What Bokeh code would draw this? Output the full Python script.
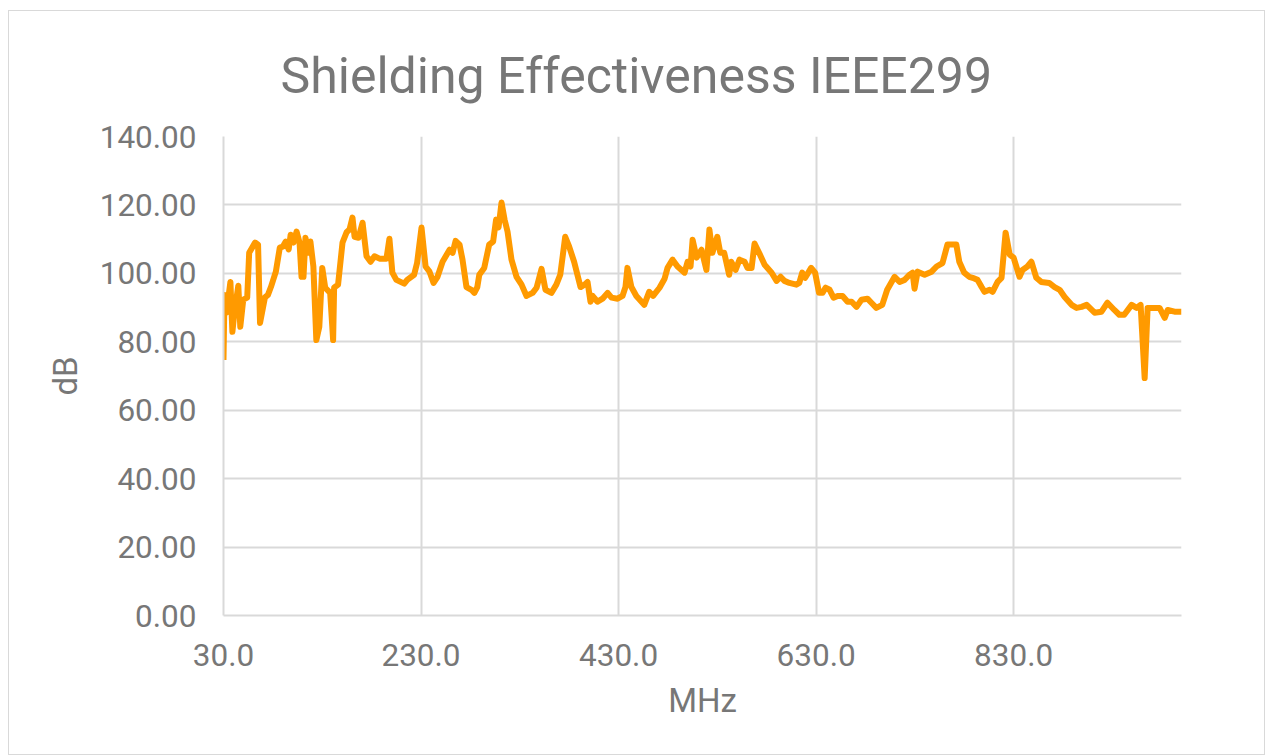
from bokeh.plotting import figure
from bokeh.models import Range1d, FixedTicker, NumeralTickFormatter
from bokeh.embed import file_html
from bokeh.resources import INLINE

title_text = "Shielding Effectiveness IEEE299"
x_label = "MHz"
y_label = "dB"
x_ticks = [30, 230, 430, 630, 830]
y_ticks = [0, 20, 40, 60, 80, 100, 120, 140]

freq_mhz = [30, 31, 33, 37, 39, 41, 45, 47, 50, 54, 56, 62, 65, 67, 72, 75, 78, 83, 87, 90,
            93, 96, 98, 101, 104, 107, 109, 111, 113, 116, 118, 121, 124, 127, 130, 133, 138, 141, 142, 146,
            150.5, 154.6, 157.6, 160.6, 162.7, 166.7, 170.8, 174.8, 178.9, 182.9, 188, 195, 198, 201, 205, 213, 216, 223, 226, 230.5,
            234.6, 238.6, 242.7, 246.7, 251.8, 258.9, 262, 265, 269, 272, 276, 281, 284, 287, 289, 294, 299, 303, 306, 308.5,
            311.5, 314.6, 317.6, 321.6, 326.7, 331.8, 336.8, 343, 347, 352, 356, 362, 367, 371, 376, 380, 385, 391.5, 395.6, 398.6,
            401.6, 403.7, 408.7, 413.8, 418.9, 422.9, 429, 434, 437, 439, 443, 448, 456, 461, 465, 471.5, 476.6, 479.6, 484.7, 489.7,
            496.8, 499.9, 502.9, 505, 509, 514, 519, 522, 525, 530, 533, 537, 542, 544, 548.5, 552.5, 557.6, 560.6, 564.7, 567.7,
            572.8, 577.9, 585, 590, 594, 598, 603, 610, 613, 616, 619, 625, 629, 633, 636.6, 639.6, 643.7, 647.7, 651.8, 656.8,
            661.9, 666, 671, 676, 682, 686, 691, 697, 702, 709.5, 714.6, 719.6, 724.7, 727.7, 729.7, 732.8, 739.9, 747, 752, 758,
            763, 772, 775, 780, 785, 788.5, 793.5, 797.6, 800.6, 805.7, 808.7, 813.8, 817.8, 821.9, 826, 830, 836, 839, 844, 848,
            853, 858, 866, 871.5, 876.6, 881.7, 888.7, 893.8, 898.9, 904, 912, 919, 925, 932, 937, 942, 949.5, 954.6, 958.6, 962.7,
            965.7, 972.8, 977.8, 983, 986, 993, 1000]

se_db = [74.7, 93.7, 88.5, 97.5, 82.9, 88.5, 96.4, 84.4, 92.3, 92.9, 106, 109, 108.4, 85.5, 93, 93.7, 96, 100.5, 107.5, 107.8,
         109.3, 107, 111.3, 109, 112.2, 109, 99, 99, 110.4, 106, 109.3, 102, 80.5, 84.4, 101.6, 95.8, 94.3, 80.5, 95.8, 96.7,
         109, 112, 112.8, 116.3, 110.7, 110.4, 114.8, 105, 103.4, 105, 104.3, 104.3, 110.1, 100.2, 98.1, 97, 98.1, 99.6, 103, 113.4,
         102, 100.5, 97.2, 99, 103.4, 106.9, 106, 109.5, 108.4, 104, 96, 95.2, 94.3, 96, 99.6, 101.6, 108.4, 109.3, 115.7, 113.4,
         120.7, 115.7, 112.2, 104, 99, 96.7, 93.4, 94.3, 95.8, 101.3, 95.2, 94.3, 96.7, 99.6, 110.7, 107.8, 103.4, 96, 96.7, 97.5,
         91.7, 93.4, 91.7, 92.6, 94.3, 92.9, 92.6, 93.4, 96, 101.6, 96, 93.4, 90.8, 94.6, 93.4, 95.8, 98.4, 101.6, 104, 102,
         100.2, 103.4, 102, 109.8, 104.6, 106.9, 101, 112.8, 106, 110.7, 106, 106, 99.6, 103.4, 101, 104, 103.4, 101.6, 101.6, 108.7,
         105.7, 102.5, 100.2, 97.8, 99, 97.8, 97.2, 96.7, 97.2, 100.2, 98.7, 101.6, 100.2, 94.3, 94.3, 95.8, 95.2, 92.9, 93.4, 93.4,
         91.7, 91.7, 90.2, 92.3, 92.6, 91.4, 89.9, 90.8, 95.2, 99, 97.5, 98.1, 99.6, 100.2, 95.5, 100.5, 99.6, 100.5, 102, 103,
         108.4, 108.4, 103.4, 100.2, 99, 98.7, 98.1, 96, 94.6, 95.2, 94.6, 97.5, 98.7, 111.9, 105.5, 104.6, 99, 101, 102, 103.4,
         98.7, 97.5, 97.2, 96, 95.2, 93.1, 90.8, 89.9, 90.2, 90.8, 88.5, 88.8, 91.4, 89.3, 87.9, 87.9, 90.8, 89.9, 90.8, 69.4,
         89.9, 89.9, 89.9, 87, 89.3, 88.8, 88.8]

FONT = "Roboto"
GREY = "#777777"
GRID = "#d9d9d9"

W, H = 1257, 745
p = figure(width=W, height=H, output_backend="svg", toolbar_location=None,
           x_range=Range1d(30, 1000), y_range=Range1d(0, 140),
           min_border_left=214, min_border_right=W - 1172,
           min_border_top=125, min_border_bottom=H - 604)

p.title.text = title_text
p.title.text_font = FONT
p.title.text_font_size = "50px"
p.title.text_font_style = "normal"
p.title.text_color = GREY
p.title.align = "left"
p.title.offset = 57
p.title.standoff = 64

p.line(freq_mhz, se_db, line_color="#FF9A00", line_width=6, line_join="round")

p.xaxis.ticker = FixedTicker(ticks=x_ticks)
p.yaxis.ticker = FixedTicker(ticks=y_ticks)
p.xaxis.formatter = NumeralTickFormatter(format="0.0")
p.yaxis.formatter = NumeralTickFormatter(format="0.00")

for ax in (p.xaxis[0], p.yaxis[0]):
    ax.major_label_text_font = FONT
    ax.major_label_text_font_size = "31.5px"
    ax.major_label_text_color = GREY
    ax.axis_label_text_font = FONT
    ax.axis_label_text_font_size = "33px"
    ax.axis_label_text_font_style = "normal"
    ax.axis_label_text_color = GREY
    ax.major_tick_line_color = None
    ax.minor_tick_line_color = None
    ax.major_tick_out = 0
    ax.major_tick_in = 0
    ax.axis_line_color = GRID
    ax.axis_line_width = 2

p.xaxis.axis_label = x_label
p.yaxis.axis_label = y_label
p.xaxis.major_label_standoff = 28
p.yaxis.major_label_standoff = 27
p.xaxis.axis_label_standoff = 12
p.yaxis.axis_label_standoff = 12

p.xgrid.grid_line_color = GRID
p.ygrid.grid_line_color = GRID
p.xgrid.grid_line_width = 2
p.ygrid.grid_line_width = 2
p.outline_line_color = None
p.background_fill_color = "white"
p.border_fill_color = "white"
p.styles = {"border": "1px solid #d9d9d9", "margin-left": "8px", "margin-top": "10px"}

open("out.html", "w").write(file_html(p, INLINE))
